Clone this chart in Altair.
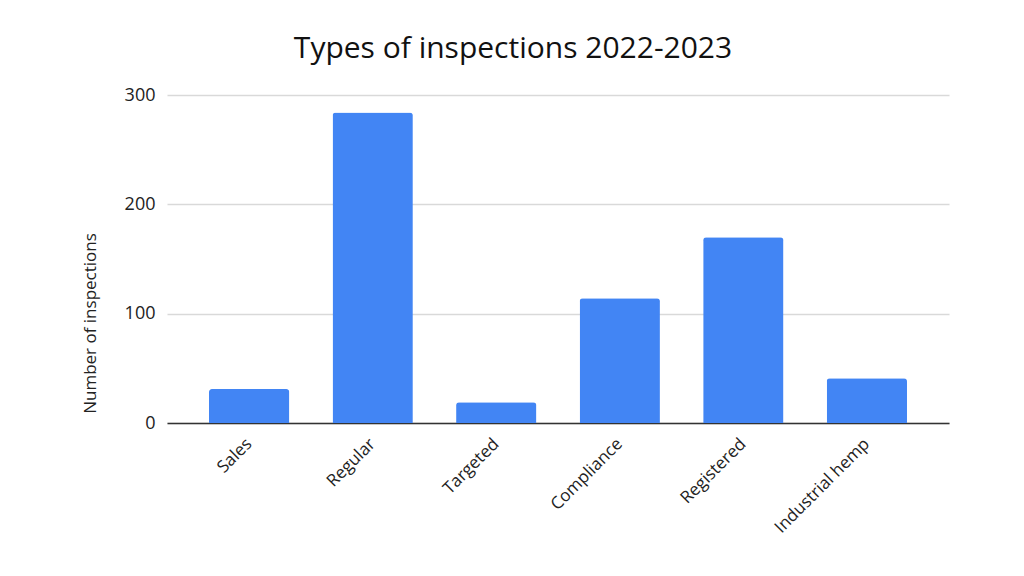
import altair as alt
import pandas as pd

categories = ["Sales", "Regular", "Targeted", "Compliance", "Registered", "Industrial hemp"]
values = [31, 284, 19, 114, 170, 41]

df = pd.DataFrame({"type": categories, "count": values})

FONT = "Open Sans"

chart = alt.Chart(df).mark_bar(
    color="#4285F4", cornerRadiusTopLeft=3, cornerRadiusTopRight=3
).encode(
    x=alt.X("type:N", sort=categories, title=None,
            scale=alt.Scale(paddingInner=0.35, paddingOuter=0.34),
            axis=alt.Axis(labelAngle=-45, labelAlign="right", labelBaseline="middle",
                          labelFont=FONT, labelFontSize=17, labelColor="#222222",
                          labelPadding=18, ticks=False, domain=True,
                          domainColor="#333333", domainWidth=1.5, grid=False)),
    y=alt.Y("count:Q", title="Number of inspections",
            scale=alt.Scale(domain=[0, 300], nice=False),
            axis=alt.Axis(values=[0, 100, 200, 300], labelFont=FONT, labelFontSize=18,
                          labelColor="#222222", labelPadding=12, ticks=False, domain=False,
                          gridColor="#d9d9d9", gridWidth=1.5,
                          titleFont=FONT, titleFontSize=17, titleFontWeight="normal",
                          titleColor="#222222", titleX=-77, titleY=228,
                          titleBaseline="middle", titleAlign="center", titleAngle=-90)),
).properties(
    width=782, height=328,
    background="white",
    title=alt.TitleParams("Types of inspections 2022-2023", font=FONT, fontSize=30,
                          fontWeight="normal", color="#111111", anchor="middle",
                          dx=-45, offset=22),
    autosize=alt.AutoSizeParams(type="none"),
    padding={"left": 167, "top": 95, "right": 75, "bottom": 153},
).configure_view(stroke=None)

chart.save("out.html", embed_options={"renderer": "svg", "actions": False})
